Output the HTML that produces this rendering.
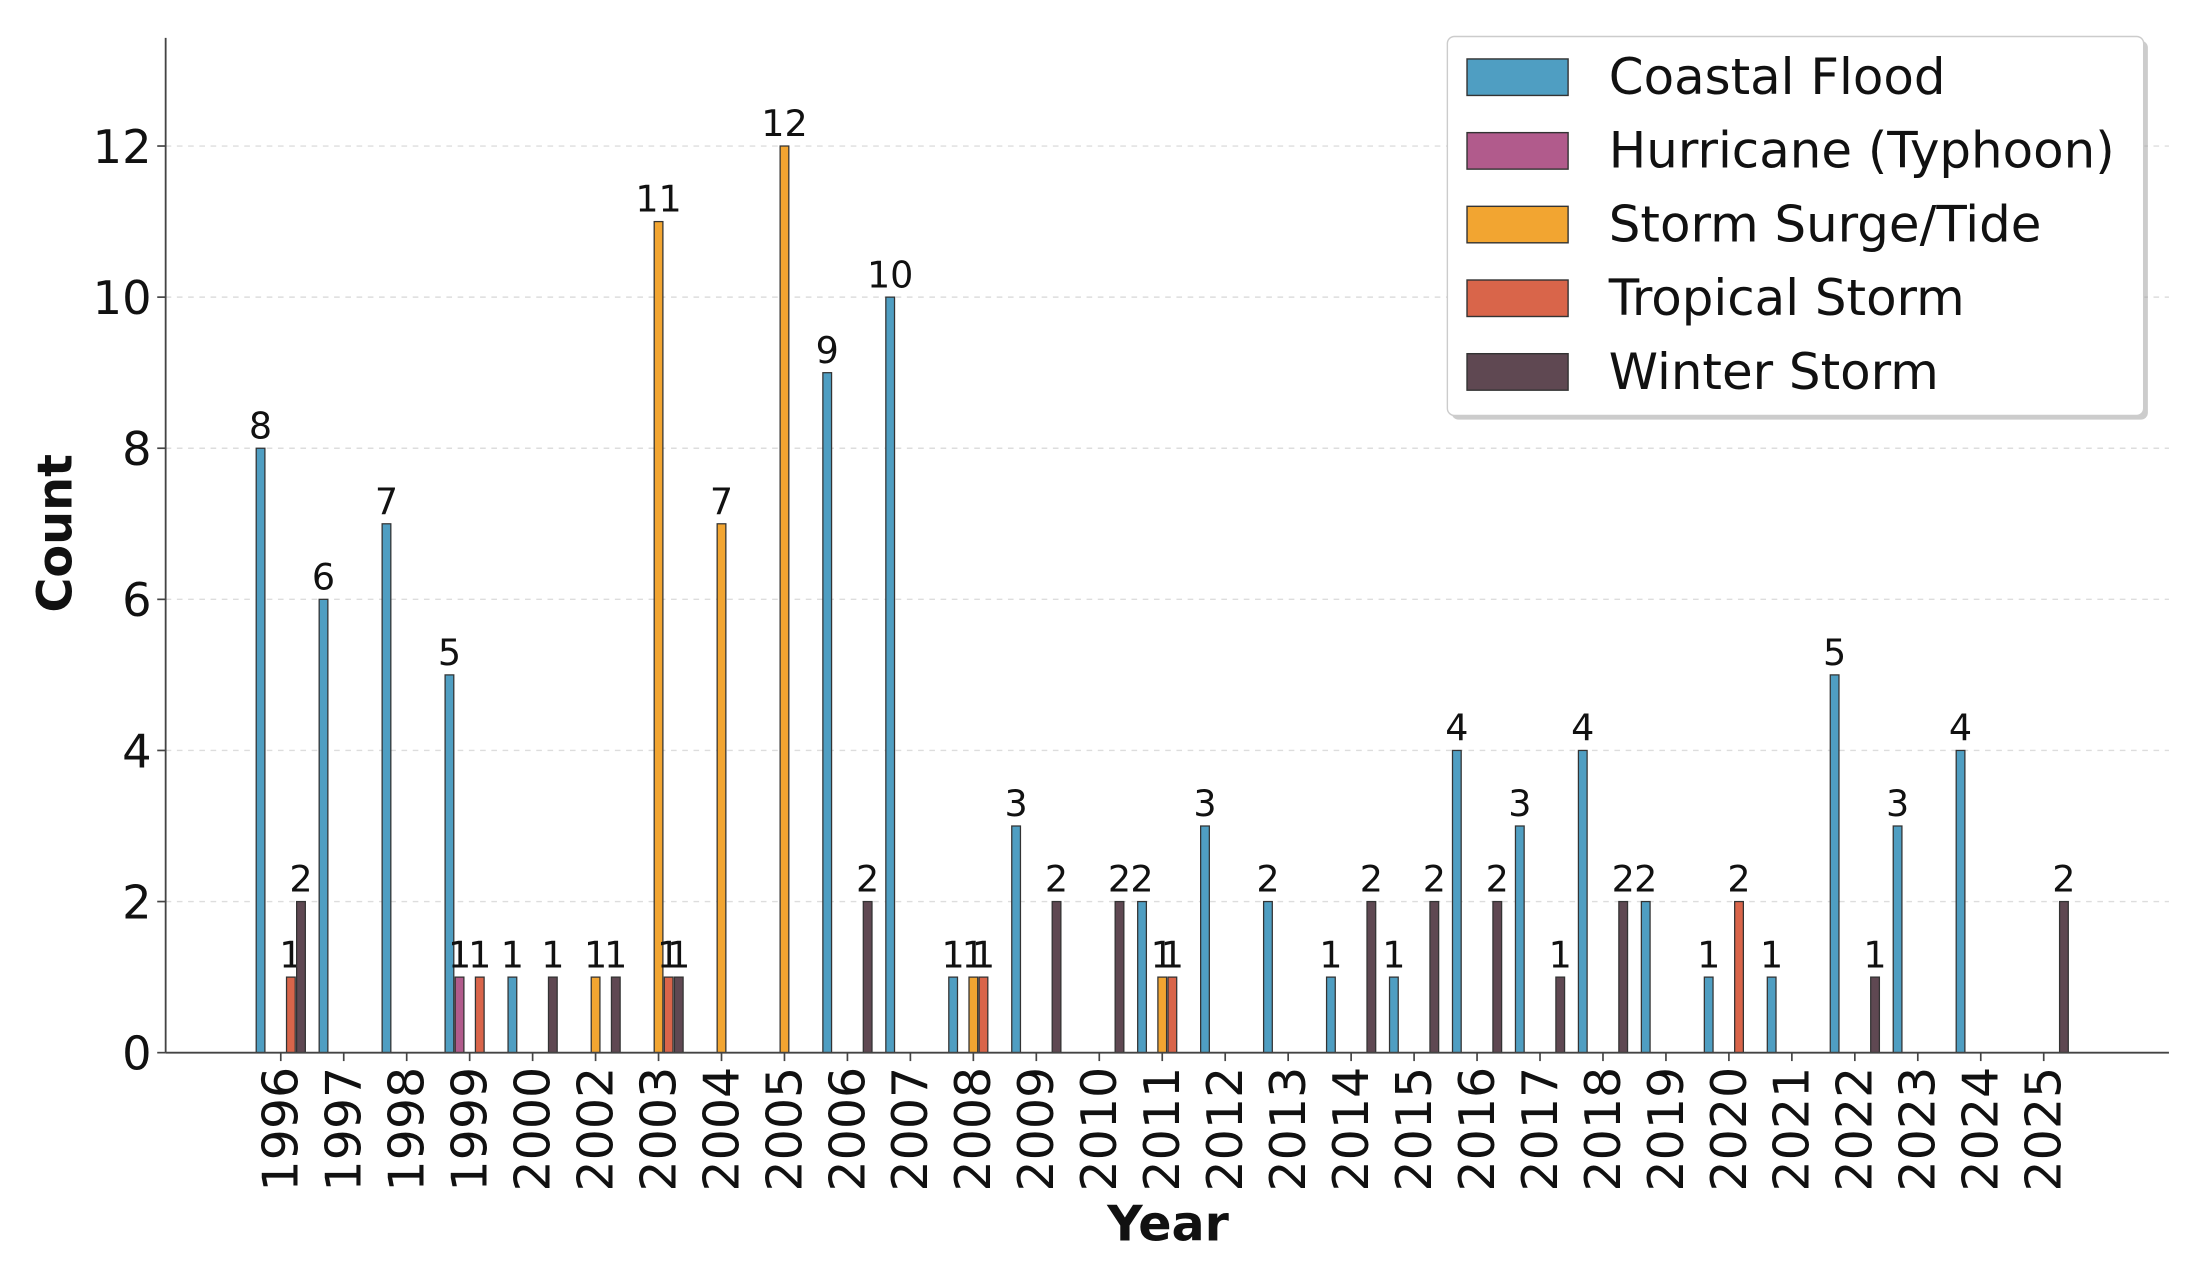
<!DOCTYPE html>
<html><head><meta charset="utf-8"><style>html,body{margin:0;padding:0;background:#fff}svg{display:block}text{font-family:"DejaVu Sans","Liberation Sans",sans-serif}</style></head>
<body>
<svg id="chart" width="2190" height="1266" viewBox="0 0 1560 902" preserveAspectRatio="none" xmlns="http://www.w3.org/2000/svg"></svg>
<script>
const years=["1996","1997","1998","1999","2000","2002","2003","2004","2005","2006","2007","2008","2009","2010","2011","2012","2013","2014","2015","2016","2017","2018","2019","2020","2021","2022","2023","2024","2025"];
const seriesNames=["Coastal Flood","Hurricane (Typhoon)","Storm Surge/Tide","Tropical Storm","Winter Storm"];
const coastalFlood=[8,6,7,5,1,0,0,0,0,9,10,1,3,0,2,3,2,1,1,4,3,4,2,1,1,5,3,4,0];
const hurricane=[0,0,0,1,0,0,0,0,0,0,0,0,0,0,0,0,0,0,0,0,0,0,0,0,0,0,0,0,0];
const stormSurge=[0,0,0,0,0,1,11,7,12,0,0,1,0,0,1,0,0,0,0,0,0,0,0,0,0,0,0,0,0];
const tropicalStorm=[1,0,0,1,0,0,1,0,0,0,0,1,0,0,1,0,0,0,0,0,0,0,0,2,0,0,0,0,0];
const winterStorm=[2,0,0,0,1,1,1,0,0,2,0,0,2,2,0,0,0,2,2,2,1,2,0,0,0,1,0,0,2];
const yTicks=[0,2,4,6,8,10,12];
const colors=["#4f9ec2","#b15b8c","#f2a531","#d9654a","#5f4852"];
const allSeries=[coastalFlood,hurricane,stormSurge,tropicalStorm,winterStorm];
const NS="http://www.w3.org/2000/svg", svg=document.getElementById('chart');
const x0=118,x1=1545,yB=750,yTop=27;
const y=v=>yB-v*53.83;
const xc=i=>200+i*44.85;
const bw=7.2;
function mk(t,a,txt){const e=document.createElementNS(NS,t);for(const k in a)e.setAttribute(k,a[k]);if(txt!==undefined)e.textContent=txt;svg.appendChild(e);return e;}
yTicks.forEach(v=>{
 const g=mk('line',{x1:x0,x2:x1,y1:y(v),y2:y(v),stroke:'#ddd','stroke-dasharray':'4,4','stroke-width':1});
 
 
 const t=mk('line',{x1:x0-6,x2:x0,y1:y(v),y2:y(v),stroke:'#444','stroke-width':1.2});
 
 
 const l=mk('text',{x:x0-10,y:y(v)+12,'text-anchor':'end','font-size':33,fill:'#111'},v);
 
 
});
allSeries.forEach((s,si)=>{
 s.forEach((v,i)=>{
  if(!v)return;
  const cx=xc(i)+(si-2)*bw;
  const r=mk('rect',{x:cx-bw/2+0.5,y:y(v),width:bw-1,height:v*53.83,fill:colors[si],stroke:'#333','stroke-width':0.9});
  
  
  const t=mk('text',{x:cx,y:y(v)-7,'text-anchor':'middle','font-size':26,fill:'#111'},v);
  
  
 });
});
years.forEach((yr,i)=>{
 const t=mk('line',{x1:xc(i),x2:xc(i),y1:yB,y2:yB+6,stroke:'#444','stroke-width':1.2});
 
 
 const l=mk('text',{x:0,y:0,'text-anchor':'end','font-size':35,fill:'#111',transform:`translate(${xc(i)+12},${yB+10}) rotate(-90)`},yr);
 
 
});
let a=mk('line',{x1:x0,x2:x0,y1:yTop,y2:yB,stroke:'#444','stroke-width':1.3});


a=mk('line',{x1:x0,x2:x1,y1:yB,y2:yB,stroke:'#444','stroke-width':1.3});


a=mk('text',{x:0,y:0,'text-anchor':'middle','font-size':34,'font-weight':'bold',fill:'#111',transform:'translate(51,380) rotate(-90)'},'Count');


a=mk('text',{x:832,y:884,'text-anchor':'middle','font-size':35,'font-weight':'bold',fill:'#111'},'Year');


a=mk('rect',{x:1034,y:29,width:496,height:270,rx:5,fill:'#999',opacity:0.5});


a=mk('rect',{x:1031,y:26,width:496,height:270,rx:5,fill:'#fff',stroke:'#ccc','stroke-width':1});


seriesNames.forEach((n,i)=>{
 const yy=42+i*52.5;
 const r=mk('rect',{x:1045,y:yy,width:72,height:26,fill:colors[i],stroke:'#333','stroke-width':1});
 
 
 const t=mk('text',{x:1146,y:yy+25,'font-size':35.5,fill:'#111'},n);
 
 
});
</script>
</body></html>
